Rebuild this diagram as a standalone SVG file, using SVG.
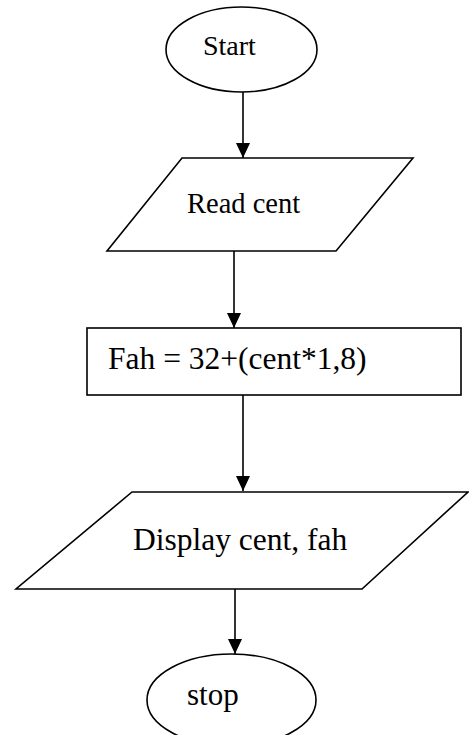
<svg xmlns="http://www.w3.org/2000/svg" width="469" height="735" viewBox="0 0 469 735">
<style>
.shape{fill:#fff;stroke:#000;stroke-width:1.6}
.conn{stroke:#000;stroke-width:1.6;fill:none}
.t{font-family:"Liberation Serif","Times New Roman",serif;fill:#000}
</style>
<defs>
<marker id="arr" markerUnits="userSpaceOnUse" markerWidth="16" markerHeight="16" refX="15" refY="7" orient="auto">
<path d="M0,0 L15,7 L0,14 Z" fill="#000"/>
</marker>
</defs>
<rect width="469" height="735" fill="#fff"/>
<g id="start">
<ellipse class="shape" cx="241.5" cy="49.5" rx="75.5" ry="42.5"/>
<text class="t" x="203" y="55" font-size="28">Start</text>
</g>
<g id="read">
<polygon class="shape" points="182,158 413,158 336,251 107,251"/>
<text class="t" x="187" y="213" font-size="28.5">Read cent</text>
</g>
<g id="process">
<rect class="shape" x="87" y="328" width="374" height="67"/>
<text class="t" x="108" y="369" font-size="31.5">Fah = 32+(cent*1,8)</text>
</g>
<g id="display">
<polygon class="shape" points="132,492 468,492 362,589 16,589"/>
<text class="t" x="133" y="550" font-size="31.5">Display cent, fah</text>
</g>
<g id="stop">
<ellipse class="shape" cx="231.5" cy="700" rx="84.5" ry="46"/>
<text class="t" x="187" y="705" font-size="31">stop</text>
</g>
<g id="connectors">
<line class="conn" x1="243" y1="92" x2="243" y2="158" marker-end="url(#arr)"/>
<line class="conn" x1="234" y1="251" x2="234" y2="328" marker-end="url(#arr)"/>
<line class="conn" x1="243" y1="395" x2="243" y2="491" marker-end="url(#arr)"/>
<line class="conn" x1="235" y1="589" x2="235" y2="654" marker-end="url(#arr)"/>
</g>
</svg>
